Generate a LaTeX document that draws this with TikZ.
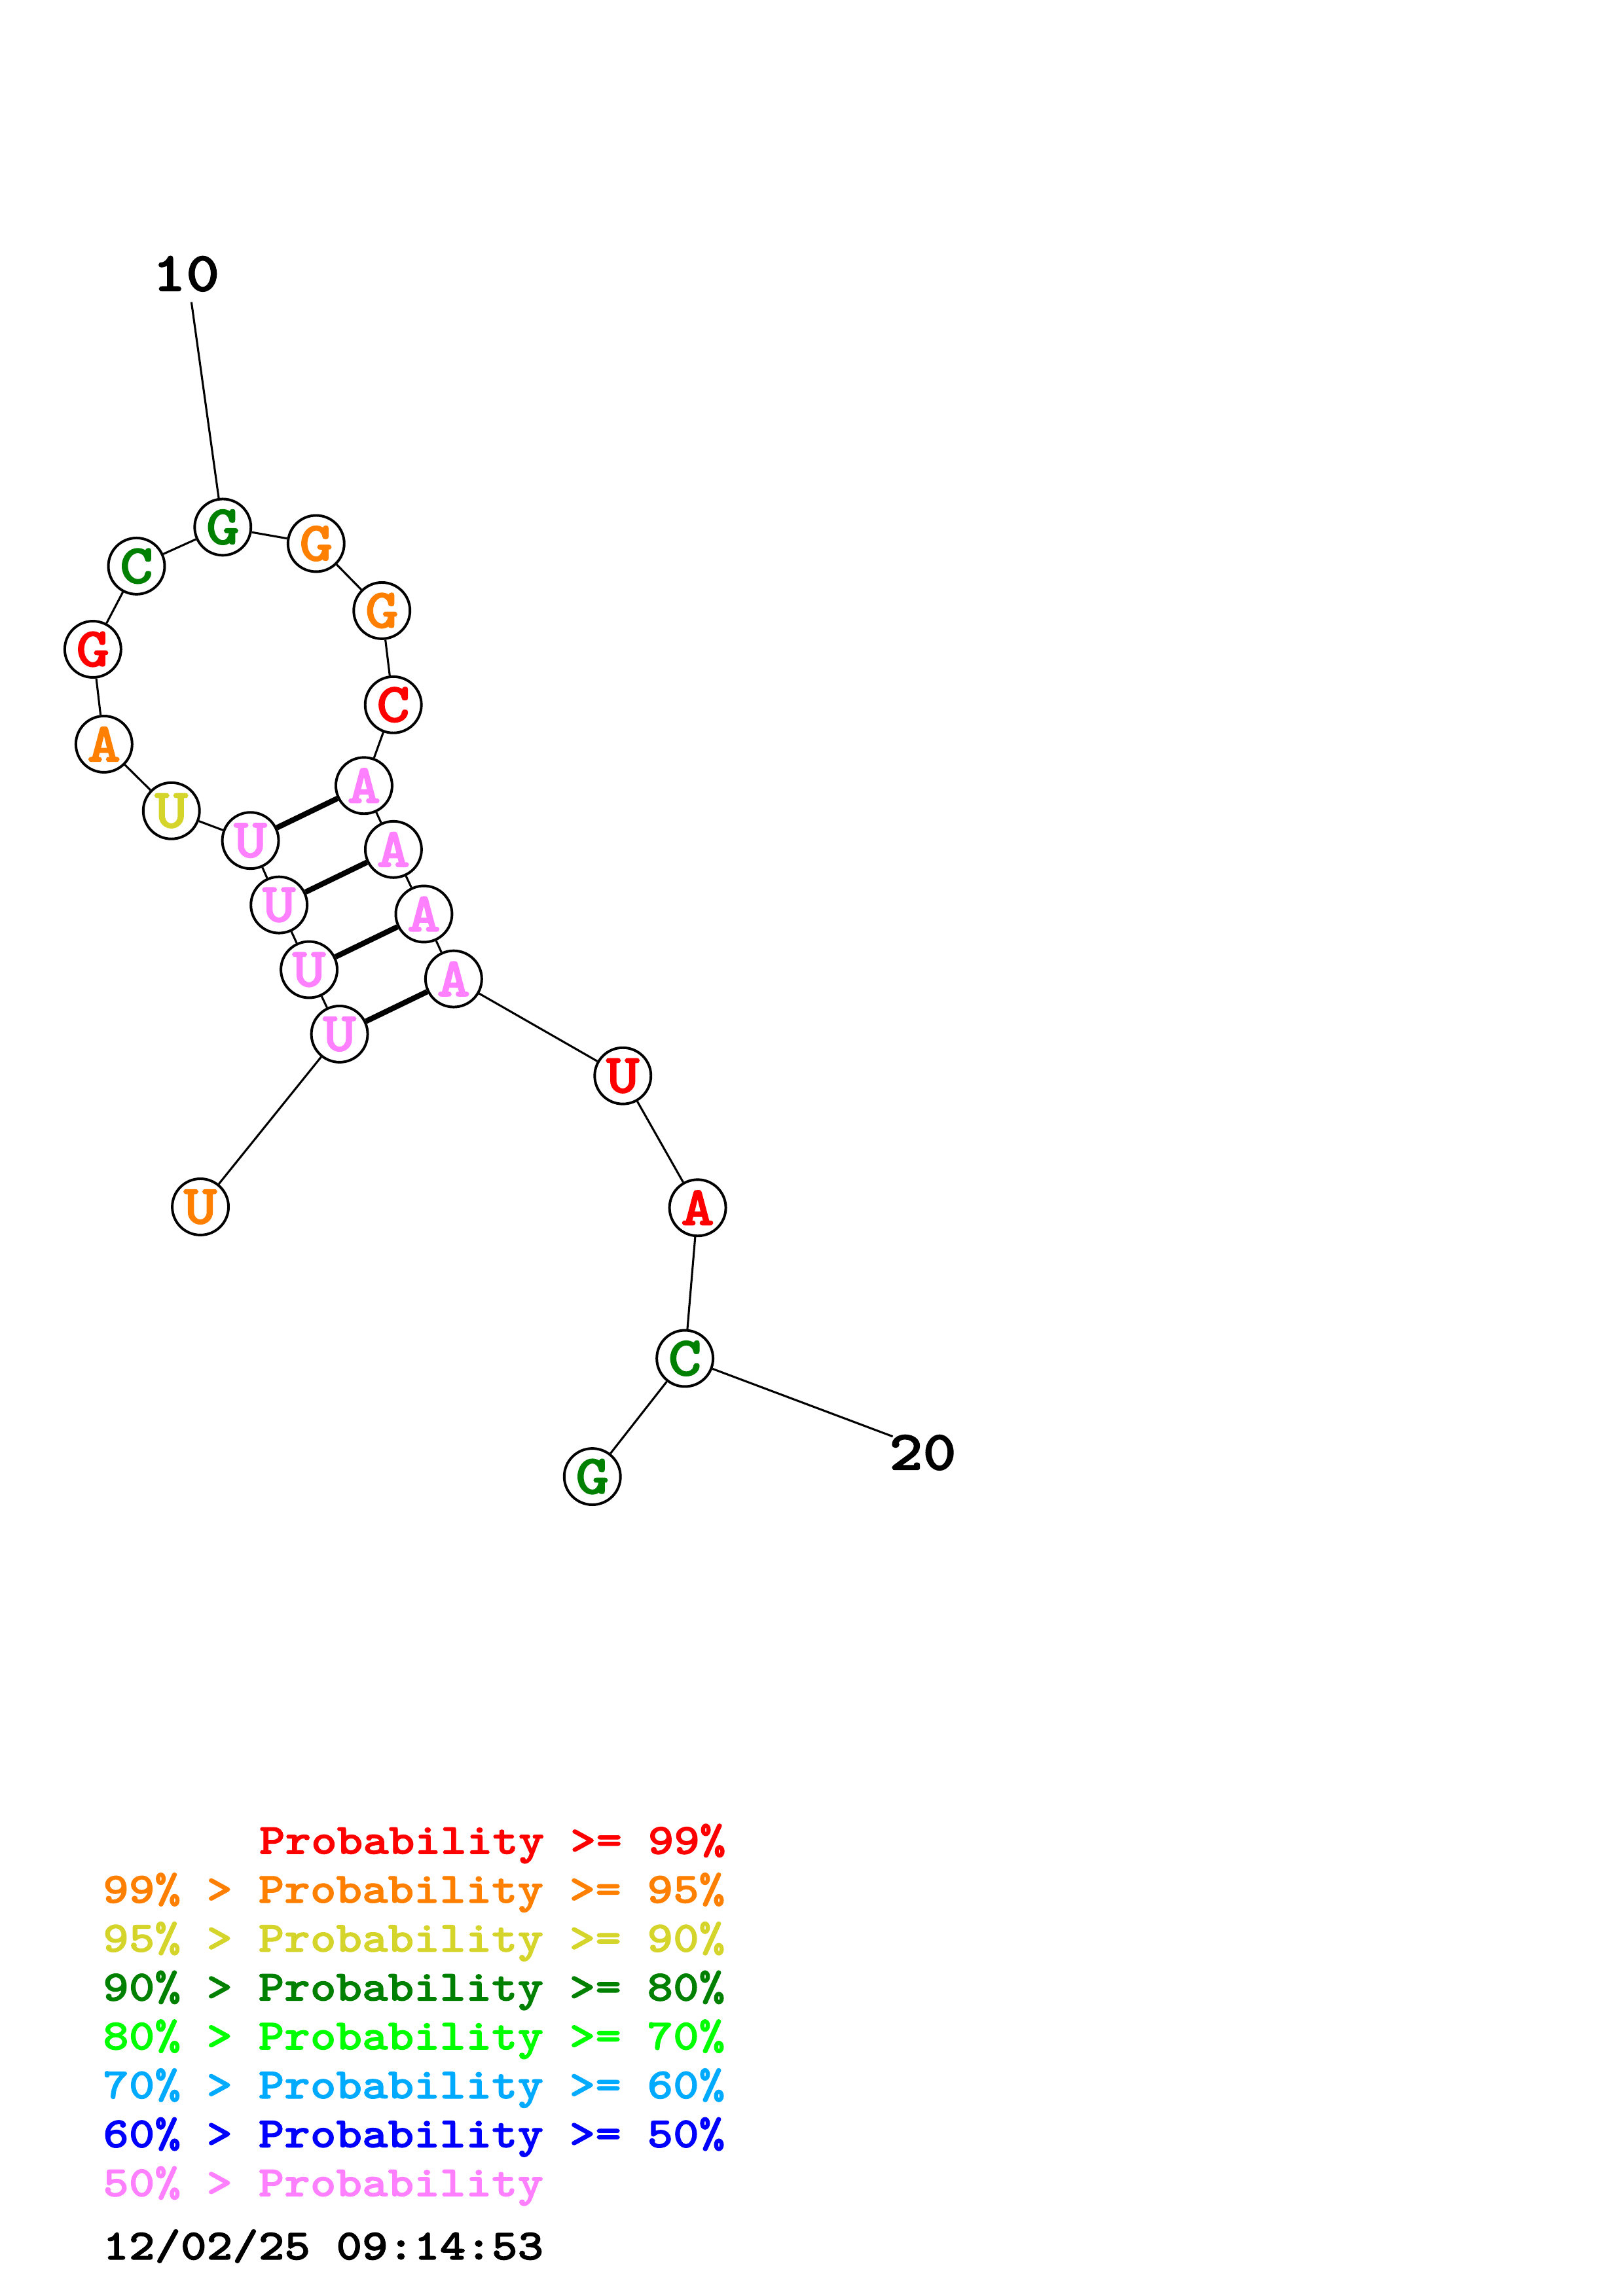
\documentclass[tikz,border=0pt]{standalone}
\usepackage{fontspec}
\usepackage{tikz}

\newfontfamily\basefont{lmmonolt10-bold.otf}[FakeBold=1.6, FakeStretch=1.143]

\definecolor{p99}{RGB}{255,0,0}
\definecolor{p95}{RGB}{255,128,0}
\definecolor{p90}{RGB}{212,212,42}
\definecolor{p80}{RGB}{0,128,0}
\definecolor{p70}{RGB}{0,255,0}
\definecolor{p60}{RGB}{0,170,255}
\definecolor{p50}{RGB}{0,0,255}
\definecolor{plow}{RGB}{255,128,255}

\tikzstyle{nt}=[circle, draw, line width=0.95pt, fill=white, minimum size=0.728cm, inner sep=0pt,
  font=\basefont\fontsize{20.5}{20.5}\selectfont]
\tikzstyle{pair}=[line width=2pt]
\tikzstyle{num}=[inner sep=0pt, font=\basefont\fontsize{20.6}{20.6}\selectfont]
\tikzstyle{legend}=[anchor=base west, inner sep=0pt, font=\basefont\fontsize{15.9}{15.9}\selectfont]

\begin{document}
\begin{tikzpicture}[x=0.01895cm, y=-0.01895cm, line width=0.75pt]
\useasboundingbox (0,0) rectangle (1108,1568);
% Bases
    \node[nt, text=p95]  (n1)  at (136.8,824.2) {U};
    \node[nt, text=plow] (n2)  at (231.8,706.2) {U};
    \node[nt, text=plow] (n3)  at (211.0,662.2) {U};
    \node[nt, text=plow] (n4)  at (190.5,618.0) {U};
    \node[nt, text=plow] (n5)  at (171.0,574.0) {U};
    \node[nt, text=p90]  (n6)  at (117.0,553.7) {U};
    \node[nt, text=p95]  (n7)  at (71.0,508.2) {A};
    \node[nt, text=p99]  (n8)  at (63.4,443.4) {G};
    \node[nt, text=p80]  (n9)  at (93.2,386.6) {C};
    \node[nt, text=p80]  (n10) at (152.1,360.0) {G};
    \node[nt, text=p95]  (n11) at (215.8,371.2) {G};
    \node[nt, text=p95]  (n12) at (260.7,417.0) {G};
    \node[nt, text=p99]  (n13) at (268.5,481.3) {C};
    \node[nt, text=plow] (n14) at (248.5,536.5) {A};
    \node[nt, text=plow] (n15) at (268.6,580.1) {A};
    \node[nt, text=plow] (n16) at (289.4,624.2) {A};
    \node[nt, text=plow] (n17) at (309.7,668.5) {A};
    \node[nt, text=p99]  (n18) at (425.2,734.7) {U};
    \node[nt, text=p99]  (n19) at (476.3,824.8) {A};
    \node[nt, text=p80]  (n20) at (467.6,927.7) {C};
    \node[nt, text=p80]  (n21) at (404.4,1008.4) {G};
% Numbering
    \node[num] (l10) at (127,187) {10};
    \node[num] (l20) at (630,992) {20};
    \coordinate (t10) at (130.7,206.3);
    \coordinate (t20) at (609.5,981);
    \draw (t10) -- (n10);
    \draw (n20) -- (t20);
% Backbone
    \draw (n1) -- (n2);
    \draw (n2) -- (n3);
    \draw (n3) -- (n4);
    \draw (n4) -- (n5);
    \draw (n5) -- (n6);
    \draw (n6) -- (n7);
    \draw (n7) -- (n8);
    \draw (n8) -- (n9);
    \draw (n9) -- (n10);
    \draw (n10) -- (n11);
    \draw (n11) -- (n12);
    \draw (n12) -- (n13);
    \draw (n13) -- (n14);
    \draw (n14) -- (n15);
    \draw (n15) -- (n16);
    \draw (n16) -- (n17);
    \draw (n17) -- (n18);
    \draw (n18) -- (n19);
    \draw (n19) -- (n20);
    \draw (n20) -- (n21);
% Pairs
    \draw[pair] (n5) -- (n14);
    \draw[pair] (n4) -- (n15);
    \draw[pair] (n3) -- (n16);
    \draw[pair] (n2) -- (n17);
% Legend
    \node[legend, text=p99]  (k1) at (176.3,1266.0) {Probability >= 99\%};
    \node[legend, text=p95]  (k2) at (69.6,1299.4) {99\% > Probability >= 95\%};
    \node[legend, text=p90]  (k3) at (69.6,1332.8) {95\% > Probability >= 90\%};
    \node[legend, text=p80]  (k4) at (69.6,1366.2) {90\% > Probability >= 80\%};
    \node[legend, text=p70]  (k5) at (69.6,1399.6) {80\% > Probability >= 70\%};
    \node[legend, text=p60]  (k6) at (69.6,1433.0) {70\% > Probability >= 60\%};
    \node[legend, text=p50]  (k7) at (69.6,1466.4) {60\% > Probability >= 50\%};
    \node[legend, text=plow] (k8) at (69.6,1499.8) {50\% > Probability};
    \node[legend, text=black] (date) at (69.6,1543.0) {12/02/25 09:14:53};
\end{tikzpicture}
\end{document}
